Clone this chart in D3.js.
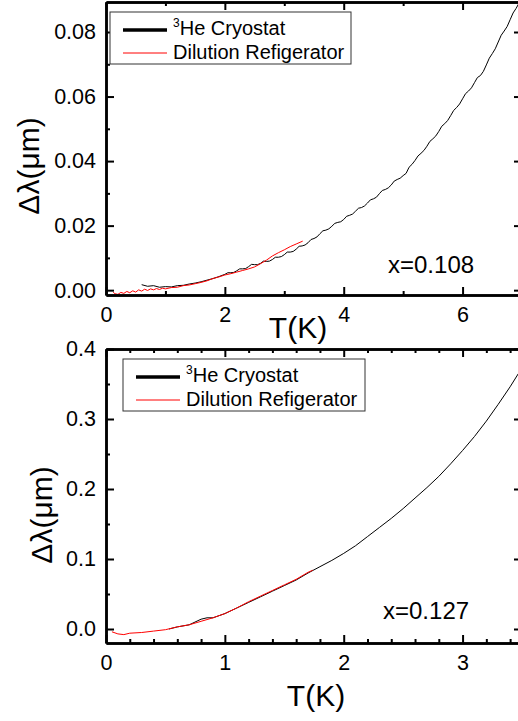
<!DOCTYPE html>
<html lang="en">
<head>
<meta charset="UTF-8">
<title>Penetration depth vs temperature</title>
<script src="https://d3js.org/d3.v7.min.js"></script>
<style>
  body { margin: 0; background: #fff; }
  svg { font-family: "Liberation Sans", Arial, sans-serif; display: block; }
  .domain { stroke: #000; stroke-width: 2.5px; }
  .tick line { stroke: #000; stroke-width: 2px; }
  .tick text { font-size: 21.5px; fill: #000; }
</style>
</head>
<body>
<div id="chart"></div>
<script>
// x = 0.108 panel, [T (K), delta lambda (um)]
const topCryostat = [
  [0.6,0.0017],[0.7,0.0012],[0.8,0.0014],[0.9,0.0009],[1.0,0.0011],[1.1,0.0010],[1.2,0.0014],
  [1.3,0.0015],[1.4,0.0019],[1.5,0.0022],[1.6,0.0026],[1.7,0.0031],[1.8,0.0036],[1.9,0.0042],
  [2.0,0.0049],[2.05,0.0054],[2.1,0.0054],[2.15,0.0055],[2.2,0.0060],[2.25,0.0066],[2.3,0.0066],
  [2.35,0.0067],[2.4,0.0073],[2.45,0.0080],[2.5,0.0079],[2.55,0.0079],[2.6,0.0083],[2.65,0.0090],
  [2.7,0.0089],[2.75,0.0090],[2.8,0.0095],[2.85,0.0102],[2.9,0.0102],[2.95,0.0104],[3.0,0.0110],
  [3.05,0.0118],[3.1,0.0118],[3.15,0.0120],[3.2,0.0127],[3.25,0.0136],[3.3,0.0137],[3.35,0.0140],
  [3.4,0.0147],[3.45,0.0157],[3.5,0.0160],[3.55,0.0165],[3.6,0.0175],[3.65,0.0184],[3.7,0.0186],
  [3.75,0.0190],[3.8,0.0198],[3.85,0.0207],[3.9,0.0210],[3.95,0.0212],[4.0,0.0219],[4.05,0.0229],
  [4.1,0.0232],[4.15,0.0236],[4.2,0.0245],[4.25,0.0254],[4.3,0.0256],[4.35,0.0261],[4.4,0.0270],
  [4.45,0.0280],[4.5,0.0283],[4.55,0.0288],[4.6,0.0299],[4.65,0.0309],[4.7,0.0312],[4.75,0.0317],
  [4.8,0.0326],[4.85,0.0338],[4.9,0.0343],[4.95,0.0347],[5.0,0.0355],[5.05,0.0362],[5.1,0.0381],
  [5.15,0.0390],[5.2,0.0402],[5.25,0.0416],[5.3,0.0424],[5.35,0.0433],[5.4,0.0446],[5.45,0.0461],
  [5.5,0.0469],[5.55,0.0478],[5.6,0.0492],[5.65,0.0508],[5.7,0.0516],[5.75,0.0526],[5.8,0.0541],
  [5.85,0.0557],[5.9,0.0566],[5.95,0.0577],[6.0,0.0593],[6.05,0.0609],[6.1,0.0617],[6.15,0.0627],
  [6.2,0.0643],[6.25,0.0659],[6.3,0.0665],[6.35,0.0678],[6.4,0.0698],[6.45,0.0719],[6.5,0.0733],
  [6.55,0.0748],[6.6,0.0769],[6.65,0.0790],[6.7,0.0803],[6.75,0.0817],[6.8,0.0838],[6.85,0.0859],
  [6.9,0.0873],[6.96,0.0893]
];
const topDilution = [
  [0.12,-0.0006],[0.15,-0.0011],[0.2,-0.0013],[0.25,-0.0007],[0.3,-0.0010],[0.35,-0.0004],
  [0.4,-0.0008],[0.45,-0.0002],[0.5,-0.0006],[0.55,0.0001],[0.6,-0.0003],[0.65,0.0003],
  [0.7,-0.0001],[0.75,0.0004],[0.8,0.0001],[0.85,0.0005],[0.9,0.0002],[0.95,0.0006],[1.0,0.0004],
  [1.1,0.0008],[1.2,0.0009],[1.3,0.0014],[1.4,0.0016],[1.5,0.0020],[1.6,0.0024],[1.7,0.0029],
  [1.8,0.0036],[1.9,0.0041],[2.0,0.0047],[2.1,0.0051],[2.2,0.0056],[2.3,0.0061],[2.4,0.0066],
  [2.5,0.0072],[2.6,0.0082],[2.7,0.0093],[2.8,0.0106],[2.9,0.0116],[3.0,0.0125],[3.1,0.0135],
  [3.2,0.0143],[3.31,0.0152]
];

// x = 0.127 panel
const bottomCryostat = [
  [0.53,0.000],[0.6,0.003],[0.7,0.006],[0.8,0.014],[0.85,0.016],[0.9,0.016],[1.0,0.022],
  [1.1,0.030],[1.2,0.038],[1.3,0.046],[1.4,0.054],[1.5,0.062],[1.6,0.070],[1.7,0.080],
  [1.8,0.089],[1.9,0.098],[2.0,0.108],[2.1,0.119],[2.2,0.132],[2.3,0.145],[2.4,0.158],
  [2.5,0.172],[2.6,0.187],[2.7,0.202],[2.8,0.218],[2.9,0.236],[3.0,0.255],[3.1,0.275],
  [3.2,0.297],[3.3,0.321],[3.4,0.346],[3.47,0.365]
];
const bottomDilution = [
  [0.05,-0.004],[0.1,-0.007],[0.15,-0.008],[0.2,-0.006],[0.3,-0.005],[0.4,-0.003],[0.5,-0.001],
  [0.6,0.003],[0.7,0.006],[0.8,0.011],[0.9,0.016],[1.0,0.022],[1.1,0.030],[1.2,0.039],
  [1.3,0.047],[1.4,0.055],[1.5,0.063],[1.6,0.071],[1.7,0.081],[1.74,0.084]
];

const topXMajor = [0, 2, 4, 6], topXMinor = [1, 3, 5, 7];
const topYMajor = [0, 0.02, 0.04, 0.06, 0.08], topYMinor = [0.01, 0.03, 0.05, 0.07];
const botXMajor = [0, 1, 2, 3];
const botXMinor = [0.2,0.4,0.6,0.8,1.2,1.4,1.6,1.8,2.2,2.4,2.6,2.8,3.2,3.4];
const botYMajor = [0, 0.1, 0.2, 0.3, 0.4], botYMinor = [0.05, 0.15, 0.25, 0.35];

const svg = d3.select("#chart").append("svg")
  .attr("width", 518).attr("height", 721);

function panel(o) {
  const x = d3.scaleLinear().domain(o.xDomain).range([106, 522]);
  const y = d3.scaleLinear().domain(o.yDomain).range([o.bottom, o.top]);
  const g = svg.append("g");
  const clipId = "clip" + o.id;
  g.append("clipPath").attr("id", clipId).append("rect")
    .attr("x", 106).attr("y", o.top).attr("width", 416).attr("height", o.bottom - o.top);

  const line = d3.line().x(d => x(d[0])).y(d => y(d[1]));
  g.append("path").datum(o.cryo).attr("clip-path", `url(#${clipId})`)
    .attr("fill", "none").attr("stroke", "#000").attr("stroke-width", 1).attr("d", line);
  g.append("path").datum(o.dil).attr("clip-path", `url(#${clipId})`)
    .attr("fill", "none").attr("stroke", "#ff0000").attr("stroke-width", 1).attr("d", line);

  // axes, ticks inward
  const ax = (fn, scale, vals, size, pos, fmt) => {
    const a = fn(scale).tickValues(vals).tickSize(-size).tickSizeOuter(0);
    if (fmt) a.tickFormat(fmt); else a.tickFormat("");
    return g.append("g").attr("transform", pos).call(a);
  };
  const bx = ax(d3.axisBottom, x, o.xMajor, 8, `translate(0,${o.bottom})`, d3.format("d"));
  bx.call(a => a.selectAll(".tick text").attr("y", 12));
  ax(d3.axisBottom, x, o.xMinor, 4, `translate(0,${o.bottom})`);
  ax(d3.axisTop, x, o.xMajor, 8, `translate(0,${o.top})`);
  ax(d3.axisTop, x, o.xMinor, 4, `translate(0,${o.top})`);
  const ly = ax(d3.axisLeft, y, o.yMajor, 8, "translate(106,0)", o.yFmt);
  ly.call(a => a.selectAll(".tick text").attr("x", -10));
  ax(d3.axisLeft, y, o.yMinor, 4, "translate(106,0)");
  ax(d3.axisRight, y, o.yMajor, 8, "translate(522,0)");
  ax(d3.axisRight, y, o.yMinor, 4, "translate(522,0)");

  // axis titles
  g.append("text").attr("x", o.xTitle[0]).attr("y", o.xTitle[1])
    .attr("text-anchor", "middle").attr("font-size", 30).text("T(K)");
  g.append("text").attr("transform", `translate(${o.yTitle[0]},${o.yTitle[1]}) rotate(-90)`)
    .attr("text-anchor", "middle").attr("font-size", 30).text("Δλ(μm)");

  g.append("text").attr("x", o.label[0]).attr("y", o.label[1])
    .attr("font-size", 24).text(o.labelText);

  // legend
  const L = o.legend;
  g.append("rect").attr("x", L.x).attr("y", L.y).attr("width", L.w).attr("height", 52)
    .attr("fill", "#fff").attr("stroke", "#333").attr("stroke-width", 1);
  const sx = L.x + 13;
  g.append("line").attr("x1", sx).attr("x2", sx + 44).attr("y1", L.y + 18).attr("y2", L.y + 18)
    .attr("stroke", "#000").attr("stroke-width", 3.5);
  g.append("line").attr("x1", sx).attr("x2", sx + 44).attr("y1", L.y + 41).attr("y2", L.y + 41)
    .attr("stroke", "#ff0000").attr("stroke-width", 1);
  const t1 = g.append("text").attr("x", sx + 50).attr("y", L.y + 23).attr("font-size", 20);
  t1.append("tspan").attr("font-size", 12).attr("dy", -8).text("3");
  t1.append("tspan").attr("dy", 8).text("He Cryostat");
  g.append("text").attr("x", sx + 50).attr("y", L.y + 47).attr("font-size", 20).text("Dilution Refigerator");
}

panel({
  id: 1, top: 2, bottom: 295, xDomain: [0, 7], yDomain: [-0.0015, 0.0893],
  cryo: topCryostat, dil: topDilution,
  xMajor: topXMajor, xMinor: topXMinor, yMajor: topYMajor, yMinor: topYMinor,
  yFmt: d3.format(".2f"),
  xTitle: [298, 338], yTitle: [39, 166], label: [388, 273], labelText: "x=0.108",
  legend: { x: 110, y: 12, w: 241 }
});

panel({
  id: 2, top: 349, bottom: 643, xDomain: [0, 3.5], yDomain: [-0.02, 0.4],
  cryo: bottomCryostat, dil: bottomDilution,
  xMajor: botXMajor, xMinor: botXMinor, yMajor: botYMajor, yMinor: botYMinor,
  yFmt: d3.format(".1f"),
  xTitle: [316, 706], yTitle: [52, 515], label: [383, 619], labelText: "x=0.127",
  legend: { x: 123, y: 359, w: 242 }
});
</script>
</body>
</html>
